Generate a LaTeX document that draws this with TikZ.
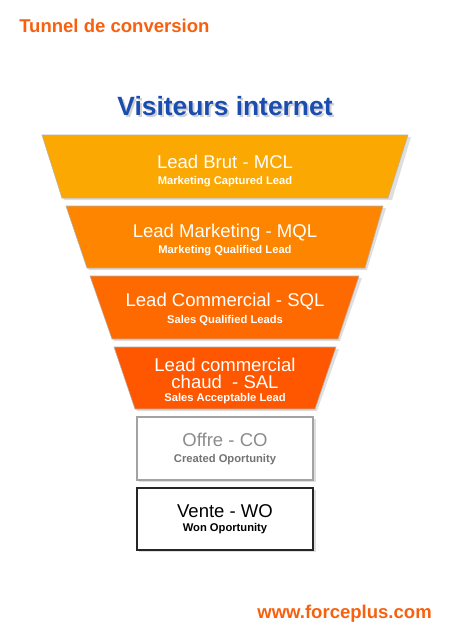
\documentclass[tikz,border=0pt]{standalone}
\usepackage{fontspec}
\setmainfont{Liberation Sans}
\definecolor{cT1}{HTML}{FCA803}
\definecolor{cT2}{HTML}{FE8500}
\definecolor{cT3}{HTML}{FF6A00}
\definecolor{cT4}{HTML}{FF5700}
\definecolor{cOrange}{HTML}{F7600F}
\definecolor{cBlue}{HTML}{1A4DB0}
\definecolor{cGray}{HTML}{8C8C8C}
\begin{document}
\begin{tikzpicture}[x=0.75pt,y=-0.75pt,
  shade/.style={fill=black, opacity=0.13},
  trap/.style={draw=black!30, line width=0.4pt},
  maintxt/.style={font=\fontsize{13.9}{16}\selectfont, text=white, anchor=base, inner sep=0pt},
  subtxt/.style={font=\bfseries\fontsize{8.4}{10}\selectfont, text=white, anchor=base, inner sep=0pt},
  headtxt/.style={font=\bfseries\fontsize{13.9}{16}\selectfont, text=cOrange, anchor=base west, inner sep=0pt}]
\useasboundingbox[fill=white] (0,0) rectangle (450,636);

% header
\node[headtxt] (title) at (19,32) {Tunnel de conversion};
\node[font=\bfseries\fontsize{19.8}{22}\selectfont, text=black, opacity=0.18, anchor=base, inner sep=0pt] (vshadow) at (227,117) {Visiteurs internet};
\node[font=\bfseries\fontsize{19.8}{22}\selectfont, text=cBlue, anchor=base, inner sep=0pt] (visit) at (225,115) {Visiteurs internet};

% shadows
\fill[shade] (44,137) -- (411,137) -- (392,200) -- (64,200) -- cycle;
\fill[shade] (68,208) -- (386,208) -- (367,270) -- (89,270) -- cycle;
\fill[shade] (92,278) -- (362,278) -- (340,341) -- (114,341) -- cycle;
\fill[shade] (116,349) -- (339,349) -- (317,411) -- (137,411) -- cycle;
\fill[shade] (139,419) rectangle (316,482);
\fill[shade] (139,490) rectangle (316,552);

% funnel
\filldraw[trap, fill=cT1] (42,135) -- (408,135) -- (388,198) -- (62,198) -- cycle;
\filldraw[trap, fill=cT2] (66,206) -- (383,206) -- (365,268) -- (87,268) -- cycle;
\filldraw[trap, fill=cT3] (90,276) -- (359,276) -- (338,339) -- (112,339) -- cycle;
\filldraw[trap, fill=cT4] (114,347) -- (336,347) -- (315,409) -- (135,409) -- cycle;

\node[maintxt] (mcl) at (225,168) {Lead Brut - MCL};
\node[subtxt] (mclsub) at (225,184) {Marketing Captured Lead};
\node[maintxt] (mql) at (225,237) {Lead Marketing - MQL};
\node[subtxt] (mqlsub) at (225,253) {Marketing Qualified Lead};
\node[maintxt] (sql) at (225,306) {Lead Commercial - SQL};
\node[subtxt] (sqlsub) at (225,323) {Sales Qualified Leads};
\node[maintxt] (sal) at (225,371) {Lead commercial};
\node[maintxt] (sal2) at (225,388) {chaud\ \ - SAL};
\node[subtxt] (salsub) at (225,401) {Sales Acceptable Lead};

% boxes
\draw[draw=cGray!80, line width=1.6pt, fill=white] (137,417) rectangle (313,480);
\node[maintxt, text=cGray] (co) at (225,446) {Offre - CO};
\node[subtxt, text=black!55] (cosub) at (225,462) {Created Oportunity};
\draw[draw=black!85, line width=1.2pt, fill=white] (137,488) rectangle (313,550);
\node[maintxt, text=black] (wo) at (225,517) {Vente - WO};
\node[subtxt, text=black] (wosub) at (225,531) {Won Oportunity};

% footer
\node[headtxt, anchor=base east] (url) at (432,618) {www.forceplus.com};
\end{tikzpicture}
\end{document}
